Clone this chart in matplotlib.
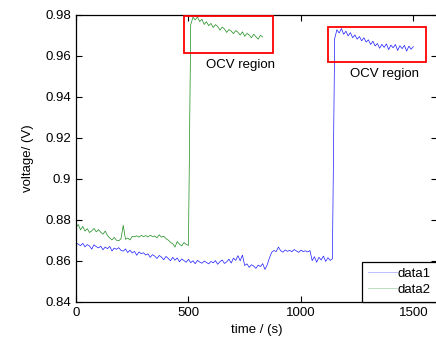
import numpy as np
import matplotlib
matplotlib.use("Agg")
import matplotlib.pyplot as plt
from matplotlib.patches import Rectangle

plt.rcParams['font.family'] = ['Liberation Sans', 'DejaVu Sans']
plt.rcParams['font.size'] = 9.5

# time axis, one sample every 10 s
t1 = np.arange(0, 1510, 10)
t2 = np.arange(0, 840, 10)

# data1 (blue), in mV
data1_mv = [
    868.8, 868.2, 867.5, 868.6, 866.9, 868.0, 867.3, 865.8, 867.9, 867.0, 866.4,
    867.2, 865.5, 866.8, 866.0, 867.1, 864.9, 866.3, 865.7, 866.5, 865.2,
    864.8, 865.9, 864.1, 865.3, 863.9, 864.7, 862.8, 864.4, 863.6, 864.0,
    862.9, 863.5, 861.8, 863.1, 862.4, 861.2, 862.7, 861.9, 860.6, 862.2,
    861.3, 860.1, 861.8, 860.4, 861.5, 859.6, 861.0, 860.2, 859.4, 860.8,
    859.2, 860.1, 858.7, 860.3, 859.5, 858.9, 860.0, 859.3, 858.6, 859.8,
    859.1, 860.2, 858.4, 859.7, 860.5, 858.8, 859.6, 860.9, 859.0, 861.4,
    860.3, 862.6, 860.1, 862.9,
    857.8, 858.6, 856.9, 858.2, 857.5, 856.4, 858.0, 857.3, 858.7, 855.9, 858.1,
    861.5, 864.2, 865.1, 864.6, 866.8, 865.0, 864.3, 865.4, 864.7, 865.2,
    864.5, 865.6, 864.9, 864.2, 865.3, 864.6, 865.0, 864.4, 865.1,
    860.2, 862.1, 859.4, 861.8, 860.5, 862.4, 859.8, 861.6, 860.3, 861.1,
    968.5,
    972.8, 971.2, 973.4, 970.6, 972.1, 969.8, 971.4, 968.9, 970.3, 968.2,
    969.5, 967.4, 968.9, 966.8, 967.9, 965.6, 967.2, 964.9, 966.1, 963.8,
    965.7, 964.2, 965.9, 963.1, 965.3, 964.0, 965.6, 962.7, 965.0, 963.6,
    965.2, 962.4, 964.8, 963.3, 964.6,
]

# data2 (green), in mV
data2_mv = [
    876.3, 877.8, 875.2, 876.9, 874.6, 875.8, 873.9, 874.7, 875.9, 874.2, 875.3,
    874.0, 873.1, 874.6, 872.4, 871.2, 870.3, 871.5, 870.1, 869.9, 870.8,
    877.4, 870.6, 871.2, 870.3, 872.0, 871.8, 872.3, 871.6, 872.5, 871.9,
    872.4, 871.7, 872.6, 871.9, 872.2, 871.3, 872.8, 871.6, 872.1, 870.9,
    870.2, 869.1, 868.4, 866.8, 869.5, 868.2, 867.4, 869.0, 868.1, 867.6,
    975.2, 978.9, 977.6, 979.1, 976.8, 977.9, 975.4, 976.7, 974.8, 975.9,
    973.9, 975.3, 974.4, 972.6, 974.1, 973.2, 971.5, 972.9, 972.2, 970.9,
    972.4, 971.6, 970.2, 971.8, 969.6, 971.0, 970.3, 968.9, 970.6, 969.4,
    968.2, 970.1, 969.3,
]

yticks = [0.84, 0.86, 0.88, 0.9, 0.92, 0.94, 0.96, 0.98]
ylabels = ['0.84', '0.86', '0.88', '0.9', '0.92', '0.94', '0.96', '0.98']
xticks = [0, 500, 1000, 1500]

# OCV boxes: (x0, x1, y0, y1) and label positions
boxes = [(482, 875, 0.9615, 0.9797), (1120, 1554, 0.9571, 0.9743)]
labels = [(732, 0.9555, 'OCV region'), (1371, 0.951, 'OCV region')]

fig = plt.figure(figsize=(4.36, 3.43), dpi=100)
ax = fig.add_axes([76/436, 41/343, 361/436, 287/343])

v1 = np.array(data1_mv) / 1000
v2 = np.array(data2_mv) / 1000
ax.plot(t1, v1, color='#1a1aff', lw=0.5, label='data1')
ax.plot(t2, v2, color='#1a8a1a', lw=0.5, label='data2')

for x0, x1, y0, y1 in boxes:
    ax.add_patch(Rectangle((x0, y0), x1 - x0, y1 - y0, fill=False,
                           edgecolor='#ff0000', lw=1.3, clip_on=False, zorder=5))
for x, y, s in labels:
    ax.text(x, y, s, ha='center', va='center')

ax.set_xlim(0, 1605)
ax.set_ylim(0.84, 0.98)
ax.set_xticks(xticks)
ax.set_yticks(yticks)
ax.set_yticklabels(ylabels)
ax.tick_params(direction='in', length=4, top=True, right=True, width=0.8)
for sp in ax.spines.values():
    sp.set_linewidth(0.9)

ax.set_xlabel('time / (s)')
ax.set_ylabel('voltage/ (V)', labelpad=8)

leg = ax.legend(loc='lower right', bbox_to_anchor=(1.0, 0.0), borderaxespad=0,
                fancybox=False, edgecolor='black', framealpha=1,
                handlelength=2.2, handletextpad=0.1, borderpad=0.45,
                labelspacing=0.3)
leg.get_frame().set_linewidth(0.9)
for ln in leg.get_lines():
    ln.set_alpha(0.4)

fig.savefig('out.png', dpi=100)
